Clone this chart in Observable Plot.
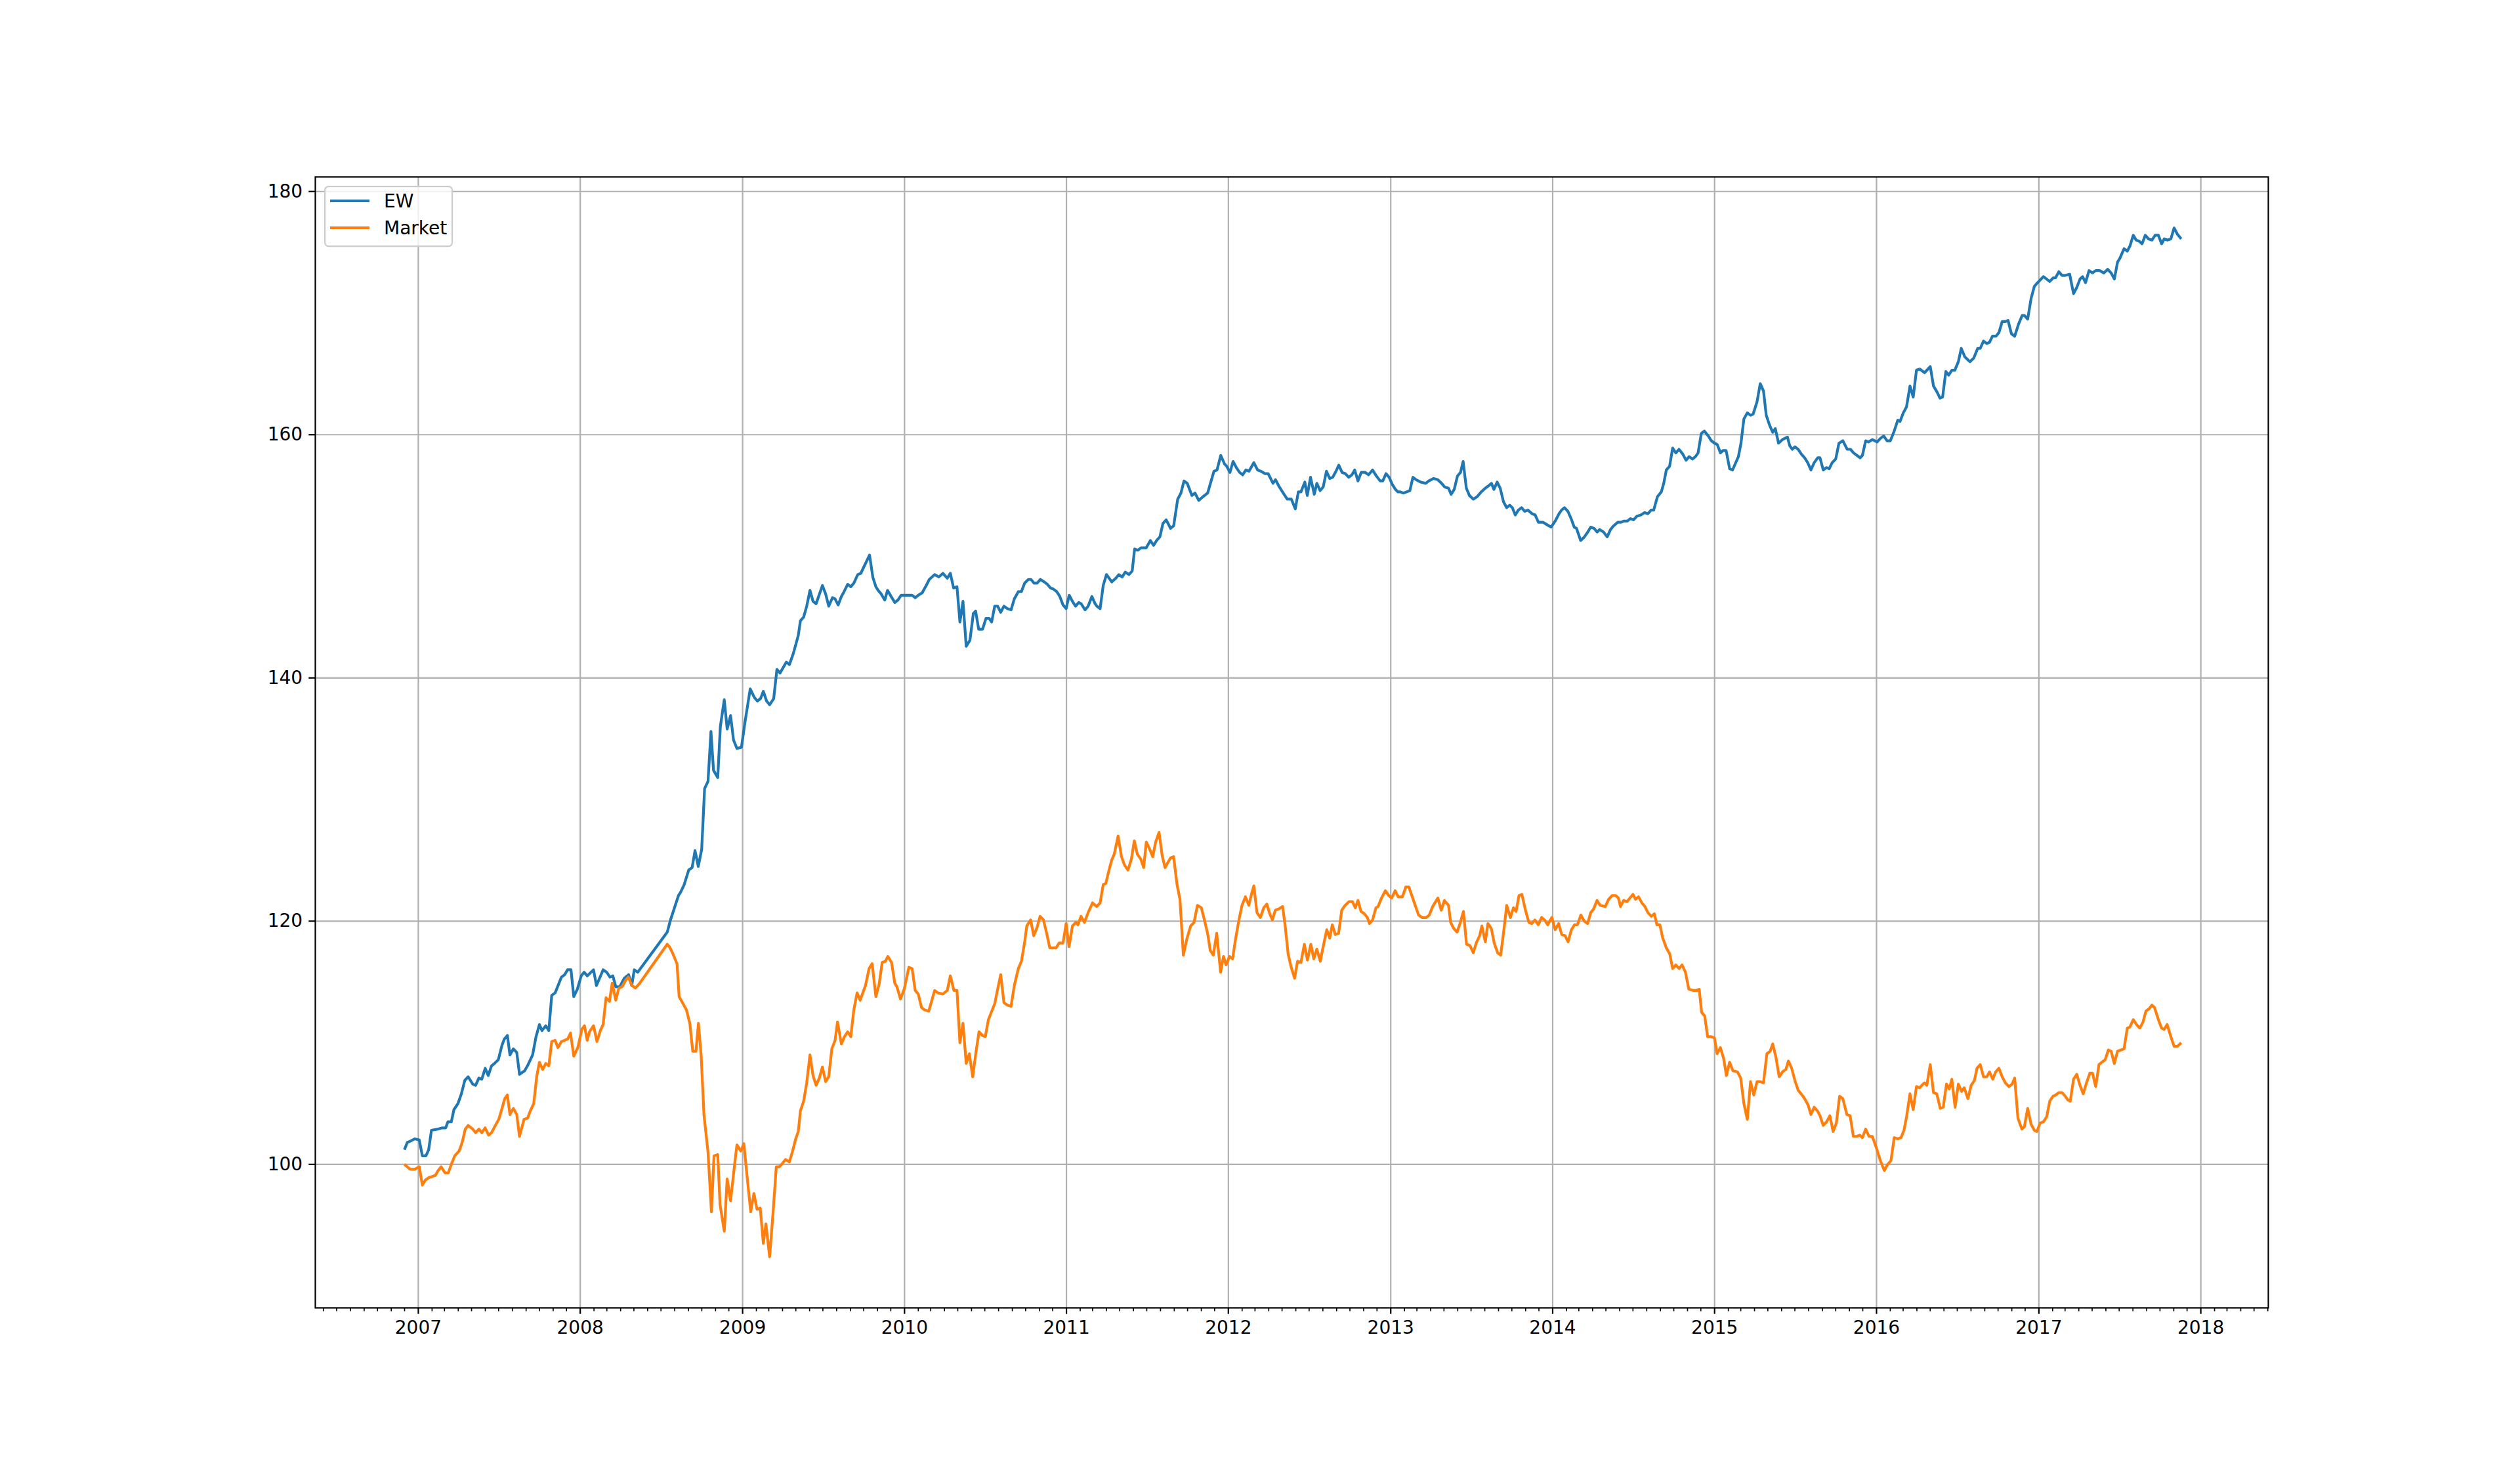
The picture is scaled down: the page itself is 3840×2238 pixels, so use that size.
<!DOCTYPE html>
<html>
<head>
<meta charset="utf-8">
<script src="https://cdn.jsdelivr.net/npm/d3@7"></script>
<script src="https://cdn.jsdelivr.net/npm/@observablehq/plot@0.6"></script>
<style>
html, body { margin: 0; padding: 0; background: #ffffff; }
#wrap { position: relative; width: 3840px; height: 2238px; }
#legend { position: absolute; left: 494px; top: 283px; }
</style>
</head>
<body>
<div id="wrap"><div id="legend"></div></div>
<script>
// ---- data (decimal year, index value) ----
const seriesNames = ["EW", "Market"];
const seriesColors = ["#1f77b4", "#ff7f0e"];
const yearTickLabels = [2007, 2008, 2009, 2010, 2011, 2012, 2013, 2014, 2015, 2016, 2017, 2018];
const yTickValues = [100, 120, 140, 160, 180];

const ewPoints = [
[2006.914,101.2],[2006.932,101.8],[2006.950,101.9],[2006.978,102.1],[2007.006,102.0],[2007.025,100.7],[2007.047,100.7],[2007.064,101.2],[2007.081,102.8],[2007.120,102.9],[2007.148,103.0],[2007.169,103.0],[2007.183,103.5],[2007.204,103.5],[2007.220,104.5],[2007.245,105.0],[2007.266,105.8],[2007.287,106.9],[2007.308,107.2],[2007.336,106.6],[2007.354,106.5],[2007.374,107.1],[2007.392,107.0],[2007.413,107.9],[2007.432,107.3],[2007.452,108.1],[2007.471,108.3],[2007.494,108.6],[2007.517,109.8],[2007.531,110.3],[2007.550,110.6],[2007.566,109.0],[2007.587,109.5],[2007.608,109.2],[2007.625,107.4],[2007.657,107.7],[2007.678,108.2],[2007.706,109.0],[2007.727,110.5],[2007.748,111.5],[2007.764,111.0],[2007.787,111.4],[2007.806,111.0],[2007.824,113.9],[2007.845,114.1],[2007.884,115.4],[2007.904,115.6],[2007.922,116.0],[2007.943,116.0],[2007.960,113.8],[2007.982,114.4],[2008.006,115.5],[2008.024,115.8],[2008.043,115.5],[2008.082,116.0],[2008.100,114.7],[2008.141,116.0],[2008.163,115.8],[2008.183,115.4],[2008.201,115.5],[2008.219,114.6],[2008.243,114.6],[2008.271,115.3],[2008.298,115.6],[2008.317,114.7],[2008.333,116.0],[2008.354,115.8],[2008.536,119.1],[2008.556,120.1],[2008.605,122.1],[2008.619,122.4],[2008.640,123.0],[2008.668,124.2],[2008.689,124.4],[2008.707,125.8],[2008.727,124.5],[2008.748,125.9],[2008.766,130.9],[2008.787,131.5],[2008.805,135.6],[2008.821,132.4],[2008.847,131.8],[2008.863,136.0],[2008.887,138.2],[2008.905,135.8],[2008.926,136.9],[2008.944,134.9],[2008.965,134.2],[2008.993,134.3],
[2009.014,136.3],[2009.047,139.1],[2009.072,138.4],[2009.091,138.1],[2009.111,138.3],[2009.128,138.9],[2009.148,138.1],[2009.167,137.8],[2009.192,138.3],[2009.212,140.7],[2009.231,140.4],[2009.270,141.3],[2009.289,141.1],[2009.313,142.0],[2009.344,143.5],[2009.357,144.7],[2009.377,145.0],[2009.396,145.9],[2009.416,147.2],[2009.435,146.3],[2009.454,146.1],[2009.493,147.6],[2009.513,146.9],[2009.532,145.9],[2009.555,146.6],[2009.571,146.5],[2009.590,146.0],[2009.610,146.7],[2009.623,147.0],[2009.649,147.7],[2009.668,147.5],[2009.687,147.8],[2009.711,148.5],[2009.730,148.6],[2009.755,149.3],[2009.784,150.1],[2009.804,148.3],[2009.823,147.5],[2009.837,147.2],[2009.856,146.9],[2009.878,146.4],[2009.895,147.2],[2009.917,146.7],[2009.940,146.2],[2009.959,146.4],[2009.979,146.8],[2010.047,146.8],[2010.066,146.6],[2010.085,146.8],[2010.109,147.0],[2010.134,147.6],[2010.153,148.1],[2010.186,148.5],[2010.212,148.3],[2010.237,148.6],[2010.264,148.2],[2010.283,148.6],[2010.303,147.4],[2010.324,147.5],[2010.342,144.6],[2010.361,146.3],[2010.381,142.6],[2010.404,143.1],[2010.425,145.3],[2010.439,145.5],[2010.458,144.0],[2010.482,144.0],[2010.503,144.9],[2010.522,144.9],[2010.538,144.6],[2010.557,145.9],[2010.575,145.9],[2010.594,145.4],[2010.614,145.9],[2010.635,145.7],[2010.658,145.6],[2010.678,146.5],[2010.703,147.1],[2010.722,147.1],[2010.742,147.8],[2010.765,148.1],[2010.781,148.1],[2010.800,147.8],[2010.819,147.8],[2010.839,148.1],[2010.862,147.9],[2010.882,147.7],[2010.901,147.4],[2010.920,147.3],[2010.940,147.1],[2010.959,146.7],[2010.979,146.0],[2010.998,145.7],
[2011.017,146.8],[2011.037,146.3],[2011.056,145.9],[2011.076,146.2],[2011.091,146.1],[2011.115,145.6],[2011.134,145.9],[2011.157,146.7],[2011.177,146.1],[2011.188,145.9],[2011.208,145.7],[2011.227,147.6],[2011.247,148.5],[2011.280,147.9],[2011.305,148.2],[2011.324,148.5],[2011.344,148.3],[2011.363,148.7],[2011.386,148.5],[2011.406,148.8],[2011.421,150.6],[2011.441,150.5],[2011.460,150.7],[2011.493,150.7],[2011.518,151.3],[2011.538,150.9],[2011.557,151.3],[2011.577,151.6],[2011.596,152.7],[2011.616,153.0],[2011.643,152.3],[2011.662,152.5],[2011.687,154.7],[2011.707,155.2],[2011.726,156.2],[2011.746,156.0],[2011.775,155.0],[2011.794,155.2],[2011.817,154.6],[2011.843,154.9],[2011.872,155.2],[2011.911,157.0],[2011.930,157.1],[2011.953,158.3],[2011.976,157.6],[2011.990,157.4],
[2012.010,156.9],[2012.029,157.8],[2012.049,157.3],[2012.069,156.9],[2012.088,156.7],[2012.108,157.1],[2012.127,157.0],[2012.157,157.7],[2012.180,157.1],[2012.200,157.0],[2012.225,156.8],[2012.245,156.8],[2012.275,156.0],[2012.290,156.3],[2012.314,155.7],[2012.343,155.1],[2012.363,154.7],[2012.388,154.7],[2012.412,153.9],[2012.431,155.3],[2012.447,155.3],[2012.471,156.1],[2012.486,155.0],[2012.506,156.5],[2012.529,155.1],[2012.545,156.0],[2012.565,155.4],[2012.584,155.7],[2012.604,157.0],[2012.624,156.4],[2012.643,156.5],[2012.663,157.0],[2012.680,157.5],[2012.700,156.9],[2012.720,156.8],[2012.741,156.5],[2012.761,156.7],[2012.778,157.1],[2012.798,156.2],[2012.818,156.9],[2012.843,156.9],[2012.863,156.7],[2012.888,157.1],[2012.912,156.6],[2012.935,156.2],[2012.951,156.2],[2012.971,156.8],[2012.990,156.5],
[2013.010,155.9],[2013.029,155.5],[2013.045,155.3],[2013.059,155.3],[2013.078,155.2],[2013.098,155.3],[2013.118,155.4],[2013.137,156.5],[2013.157,156.3],[2013.186,156.1],[2013.216,156.0],[2013.235,156.2],[2013.265,156.4],[2013.290,156.3],[2013.314,156.0],[2013.333,155.7],[2013.357,155.6],[2013.373,155.1],[2013.392,155.5],[2013.412,156.6],[2013.431,156.9],[2013.447,157.8],[2013.467,155.6],[2013.486,155.0],[2013.510,154.7],[2013.533,154.9],[2013.559,155.3],[2013.584,155.6],[2013.604,155.8],[2013.622,156.0],[2013.637,155.5],[2013.657,156.1],[2013.676,155.6],[2013.696,154.5],[2013.716,154.0],[2013.735,154.2],[2013.751,154.0],[2013.769,153.4],[2013.788,153.8],[2013.808,154.0],[2013.827,153.7],[2013.847,153.8],[2013.873,153.5],[2013.892,153.4],[2013.912,152.8],[2013.941,152.8],[2013.965,152.6],[2013.990,152.4],
[2014.016,152.9],[2014.039,153.5],[2014.055,153.8],[2014.073,154.0],[2014.094,153.7],[2014.114,153.1],[2014.133,152.4],[2014.147,152.3],[2014.173,151.3],[2014.196,151.6],[2014.212,151.9],[2014.235,152.4],[2014.255,152.3],[2014.275,152.0],[2014.290,152.2],[2014.314,152.0],[2014.337,151.6],[2014.357,152.2],[2014.376,152.5],[2014.402,152.8],[2014.422,152.8],[2014.441,152.9],[2014.461,152.9],[2014.480,153.1],[2014.500,153.0],[2014.520,153.3],[2014.545,153.4],[2014.569,153.6],[2014.588,153.5],[2014.608,153.8],[2014.624,153.8],[2014.647,154.9],[2014.671,155.3],[2014.686,156.0],[2014.702,157.1],[2014.722,157.4],[2014.741,158.9],[2014.761,158.5],[2014.780,158.8],[2014.804,158.4],[2014.824,157.9],[2014.843,158.2],[2014.863,158.0],[2014.882,158.2],[2014.898,158.5],[2014.918,160.1],[2014.937,160.3],[2014.961,159.9],[2014.980,159.5],
[2015.000,159.3],[2015.016,159.2],[2015.036,158.5],[2015.052,158.7],[2015.071,158.7],[2015.093,157.2],[2015.111,157.1],[2015.147,158.2],[2015.163,159.3],[2015.181,161.3],[2015.202,161.8],[2015.222,161.6],[2015.238,161.7],[2015.262,162.7],[2015.282,164.2],[2015.302,163.6],[2015.319,161.6],[2015.339,160.8],[2015.359,160.2],[2015.375,160.5],[2015.395,159.3],[2015.419,159.6],[2015.450,159.8],[2015.464,159.1],[2015.480,158.8],[2015.496,159.0],[2015.516,158.8],[2015.536,158.4],[2015.556,158.1],[2015.575,157.7],[2015.595,157.1],[2015.615,157.7],[2015.637,158.1],[2015.651,158.1],[2015.671,157.1],[2015.692,157.3],[2015.708,157.2],[2015.726,157.7],[2015.748,158.0],[2015.768,159.3],[2015.792,159.5],[2015.819,158.8],[2015.839,158.8],[2015.859,158.5],[2015.879,158.3],[2015.899,158.1],[2015.913,158.3],[2015.933,159.5],[2015.950,159.4],[2015.974,159.6],
[2016.004,159.4],[2016.024,159.7],[2016.044,159.9],[2016.065,159.5],[2016.085,159.5],[2016.109,160.3],[2016.131,161.2],[2016.145,161.1],[2016.165,161.8],[2016.185,162.3],[2016.206,164.0],[2016.226,163.1],[2016.246,165.3],[2016.266,165.4],[2016.296,165.1],[2016.331,165.6],[2016.351,164.0],[2016.373,163.5],[2016.391,163.0],[2016.407,163.1],[2016.427,165.2],[2016.444,164.9],[2016.464,165.3],[2016.482,165.3],[2016.504,166.0],[2016.522,167.1],[2016.544,166.4],[2016.575,166.0],[2016.599,166.3],[2016.623,167.1],[2016.639,167.1],[2016.659,167.7],[2016.679,167.5],[2016.696,167.6],[2016.714,168.1],[2016.736,168.1],[2016.754,168.4],[2016.774,169.3],[2016.794,169.3],[2016.810,169.4],[2016.831,168.3],[2016.851,168.1],[2016.875,169.1],[2016.897,169.8],[2016.911,169.8],[2016.931,169.5],[2016.952,171.2],[2016.972,172.2],[2016.992,172.5],
[2017.028,173.0],[2017.067,172.6],[2017.089,172.9],[2017.103,172.9],[2017.123,173.4],[2017.143,173.1],[2017.163,173.1],[2017.190,173.2],[2017.214,171.6],[2017.234,172.1],[2017.254,172.8],[2017.270,173.0],[2017.288,172.5],[2017.310,173.5],[2017.331,173.3],[2017.351,173.5],[2017.375,173.5],[2017.401,173.3],[2017.425,173.6],[2017.446,173.3],[2017.466,172.8],[2017.486,174.2],[2017.500,174.5],[2017.526,175.3],[2017.546,175.1],[2017.562,175.5],[2017.583,176.4],[2017.601,176.0],[2017.621,175.9],[2017.637,175.7],[2017.657,176.4],[2017.677,176.1],[2017.698,176.0],[2017.718,176.4],[2017.738,176.4],[2017.758,175.7],[2017.774,176.1],[2017.794,176.0],[2017.815,176.1],[2017.835,177.0],[2017.855,176.5],[2017.879,176.1]
];

const marketPoints = [
[2006.914,100.0],[2006.950,99.6],[2006.978,99.6],[2007.006,99.8],[2007.025,98.3],[2007.043,98.7],[2007.064,98.9],[2007.085,99.0],[2007.106,99.1],[2007.123,99.5],[2007.141,99.8],[2007.165,99.3],[2007.185,99.3],[2007.204,100.0],[2007.225,100.7],[2007.252,101.1],[2007.271,101.8],[2007.290,102.9],[2007.308,103.2],[2007.336,102.9],[2007.354,102.6],[2007.374,102.9],[2007.392,102.6],[2007.413,103.0],[2007.434,102.4],[2007.452,102.6],[2007.476,103.2],[2007.497,103.7],[2007.517,104.6],[2007.534,105.4],[2007.550,105.7],[2007.566,104.1],[2007.587,104.6],[2007.608,104.1],[2007.625,102.3],[2007.653,103.7],[2007.675,103.8],[2007.692,104.4],[2007.713,105.0],[2007.731,107.2],[2007.748,108.4],[2007.768,107.8],[2007.787,108.3],[2007.806,108.1],[2007.824,110.1],[2007.845,110.2],[2007.862,109.6],[2007.884,110.1],[2007.904,110.2],[2007.922,110.3],[2007.940,110.8],[2007.960,108.9],[2007.985,109.6],
[2008.010,111.1],[2008.026,111.4],[2008.043,110.2],[2008.057,110.9],[2008.082,111.4],[2008.103,110.1],[2008.124,111.0],[2008.141,111.5],[2008.159,113.7],[2008.180,113.4],[2008.197,114.9],[2008.219,113.5],[2008.238,114.5],[2008.257,114.6],[2008.278,115.1],[2008.296,115.4],[2008.319,114.7],[2008.340,114.5],[2008.361,114.8],[2008.536,118.1],[2008.549,117.9],[2008.568,117.4],[2008.596,116.5],[2008.609,113.8],[2008.654,112.7],[2008.675,111.6],[2008.693,109.3],[2008.713,109.3],[2008.728,111.6],[2008.745,108.9],[2008.762,104.1],[2008.787,101.0],[2008.808,96.1],[2008.824,100.7],[2008.847,100.8],[2008.861,96.7],[2008.887,94.5],[2008.905,98.8],[2008.926,97.0],[2008.944,99.2],[2008.965,101.6],[2008.989,101.1],
[2009.008,101.7],[2009.027,99.1],[2009.050,96.1],[2009.070,97.6],[2009.089,96.3],[2009.109,96.4],[2009.128,93.5],[2009.144,95.1],[2009.167,92.4],[2009.188,96.0],[2009.208,99.8],[2009.227,99.8],[2009.247,100.1],[2009.266,100.4],[2009.289,100.2],[2009.309,101.1],[2009.328,102.1],[2009.344,102.7],[2009.357,104.4],[2009.377,105.2],[2009.396,106.7],[2009.416,109.0],[2009.435,107.3],[2009.454,106.5],[2009.474,107.1],[2009.493,108.0],[2009.513,106.8],[2009.532,107.2],[2009.551,109.5],[2009.571,110.2],[2009.586,111.7],[2009.610,109.9],[2009.629,110.5],[2009.649,110.9],[2009.668,110.5],[2009.687,112.7],[2009.707,114.1],[2009.726,113.5],[2009.759,114.7],[2009.781,116.1],[2009.800,116.5],[2009.823,113.8],[2009.843,114.8],[2009.862,116.6],[2009.882,116.7],[2009.897,117.1],[2009.920,116.6],[2009.940,114.9],[2009.953,114.6],[2009.975,113.6],[2009.998,114.4],
[2010.027,116.2],[2010.047,116.1],[2010.066,114.3],[2010.085,114.0],[2010.105,112.9],[2010.124,112.7],[2010.150,112.6],[2010.186,114.3],[2010.206,114.1],[2010.237,114.0],[2010.264,114.3],[2010.283,115.5],[2010.305,114.3],[2010.324,114.3],[2010.342,110.0],[2010.361,111.6],[2010.381,108.3],[2010.400,109.1],[2010.421,107.2],[2010.441,109.2],[2010.460,110.9],[2010.480,110.6],[2010.499,110.5],[2010.518,111.9],[2010.542,112.7],[2010.557,113.2],[2010.575,114.4],[2010.594,115.6],[2010.614,113.3],[2010.635,113.1],[2010.658,113.0],[2010.678,114.7],[2010.703,116.1],[2010.722,116.7],[2010.742,118.3],[2010.755,119.6],[2010.779,120.1],[2010.798,118.8],[2010.819,119.5],[2010.837,120.4],[2010.858,120.1],[2010.878,119.0],[2010.897,117.8],[2010.920,117.8],[2010.936,117.8],[2010.955,118.2],[2010.979,118.2],[2010.998,119.8],
[2011.016,117.9],[2011.037,119.6],[2011.058,119.9],[2011.071,119.7],[2011.090,120.4],[2011.111,119.9],[2011.137,120.8],[2011.161,121.5],[2011.187,121.2],[2011.208,121.5],[2011.227,123.0],[2011.243,123.1],[2011.261,124.1],[2011.279,125.0],[2011.295,125.5],[2011.319,127.0],[2011.340,125.3],[2011.359,124.6],[2011.380,124.2],[2011.401,125.1],[2011.419,126.6],[2011.438,125.5],[2011.459,125.1],[2011.477,124.4],[2011.493,126.5],[2011.511,126.0],[2011.533,125.3],[2011.551,126.5],[2011.572,127.3],[2011.591,125.4],[2011.609,124.4],[2011.630,124.9],[2011.643,125.2],[2011.662,125.3],[2011.683,123.0],[2011.701,121.8],[2011.722,117.2],[2011.743,118.5],[2011.767,119.6],[2011.788,119.9],[2011.809,121.3],[2011.833,121.1],[2011.854,120.0],[2011.873,118.9],[2011.888,117.6],[2011.907,117.2],[2011.928,119.0],[2011.952,115.8],[2011.970,117.1],[2011.986,116.4],
[2012.007,117.1],[2012.026,116.9],[2012.044,118.5],[2012.065,120.1],[2012.084,121.3],[2012.105,122.0],[2012.126,121.3],[2012.144,122.3],[2012.157,122.9],[2012.176,120.7],[2012.197,120.3],[2012.218,121.1],[2012.237,121.4],[2012.255,120.6],[2012.271,120.1],[2012.289,120.9],[2012.310,121.0],[2012.334,121.2],[2012.350,119.6],[2012.368,117.3],[2012.387,116.2],[2012.408,115.3],[2012.426,116.7],[2012.447,116.6],[2012.468,118.1],[2012.487,116.8],[2012.508,118.1],[2012.526,116.9],[2012.545,117.7],[2012.566,116.7],[2012.584,117.9],[2012.606,119.3],[2012.624,118.6],[2012.640,119.7],[2012.658,118.9],[2012.679,119.0],[2012.698,120.9],[2012.719,121.3],[2012.743,121.6],[2012.764,121.6],[2012.782,121.1],[2012.798,121.7],[2012.817,120.8],[2012.838,120.6],[2012.856,120.3],[2012.869,119.8],[2012.888,120.1],[2012.909,121.1],[2012.922,121.2],[2012.943,121.9],[2012.967,122.5],[2012.988,122.1],
[2013.006,121.9],[2013.027,122.5],[2013.046,122.0],[2013.072,122.0],[2013.093,122.8],[2013.112,122.8],[2013.133,122.0],[2013.151,121.3],[2013.172,120.5],[2013.193,120.3],[2013.220,120.3],[2013.238,120.5],[2013.259,121.2],[2013.291,121.9],[2013.312,120.9],[2013.331,121.7],[2013.357,121.3],[2013.370,119.9],[2013.389,119.4],[2013.410,119.1],[2013.428,119.8],[2013.449,120.8],[2013.468,118.1],[2013.489,118.0],[2013.510,117.4],[2013.528,118.2],[2013.549,118.8],[2013.563,119.6],[2013.584,118.3],[2013.600,119.8],[2013.621,119.4],[2013.639,118.2],[2013.660,117.4],[2013.679,117.2],[2013.700,119.4],[2013.716,121.3],[2013.739,120.3],[2013.758,121.1],[2013.774,120.8],[2013.792,122.1],[2013.810,122.2],[2013.832,120.9],[2013.853,119.9],[2013.871,119.8],[2013.890,120.1],[2013.911,119.7],[2013.932,120.3],[2013.950,120.1],[2013.969,119.7],[2013.995,120.3],
[2014.016,119.3],[2014.037,119.8],[2014.056,118.9],[2014.077,118.8],[2014.095,118.3],[2014.116,119.3],[2014.135,119.7],[2014.153,119.7],[2014.174,120.5],[2014.195,120.0],[2014.216,119.8],[2014.235,120.7],[2014.253,121.0],[2014.274,121.7],[2014.293,121.3],[2014.325,121.2],[2014.346,121.8],[2014.367,122.1],[2014.390,122.1],[2014.406,121.9],[2014.419,121.2],[2014.438,121.7],[2014.459,121.6],[2014.477,121.9],[2014.496,122.2],[2014.512,121.8],[2014.530,122.0],[2014.551,121.5],[2014.570,121.2],[2014.588,120.7],[2014.609,120.4],[2014.628,120.6],[2014.644,119.7],[2014.662,119.7],[2014.680,118.6],[2014.702,117.8],[2014.723,117.3],[2014.741,116.1],[2014.760,116.4],[2014.781,116.1],[2014.799,116.4],[2014.820,115.8],[2014.841,114.4],[2014.868,114.3],[2014.886,114.3],[2014.905,114.4],[2014.920,112.5],[2014.939,112.2],[2014.957,110.5],[2014.978,110.5],[2014.999,110.4],
[2015.016,109.1],[2015.036,109.6],[2015.056,108.7],[2015.073,107.3],[2015.093,108.4],[2015.113,107.7],[2015.141,107.6],[2015.161,107.1],[2015.181,105.0],[2015.202,103.7],[2015.222,106.8],[2015.242,105.7],[2015.262,106.8],[2015.282,106.8],[2015.302,106.7],[2015.323,109.1],[2015.343,109.3],[2015.359,109.9],[2015.379,108.8],[2015.399,107.2],[2015.419,107.6],[2015.440,107.8],[2015.456,108.5],[2015.476,107.9],[2015.496,106.9],[2015.516,106.1],[2015.540,105.7],[2015.556,105.4],[2015.577,104.9],[2015.595,104.1],[2015.615,104.7],[2015.635,104.4],[2015.651,104.0],[2015.671,103.2],[2015.692,103.5],[2015.712,104.0],[2015.732,102.7],[2015.752,103.4],[2015.772,105.6],[2015.792,105.4],[2015.817,104.1],[2015.837,104.0],[2015.857,102.3],[2015.877,102.3],[2015.897,102.4],[2015.913,102.2],[2015.933,102.9],[2015.954,102.3],[2015.974,102.3],[2015.998,101.4],
[2016.024,100.3],[2016.048,99.5],[2016.069,100.0],[2016.089,100.3],[2016.109,102.2],[2016.131,102.1],[2016.151,102.2],[2016.169,102.8],[2016.185,103.9],[2016.206,105.8],[2016.226,104.5],[2016.246,106.4],[2016.266,106.3],[2016.286,106.6],[2016.296,106.7],[2016.310,106.5],[2016.331,108.2],[2016.351,105.9],[2016.371,105.8],[2016.393,104.6],[2016.411,104.7],[2016.431,106.6],[2016.448,106.2],[2016.464,107.0],[2016.484,104.7],[2016.504,106.6],[2016.524,106.0],[2016.540,106.3],[2016.563,105.4],[2016.583,106.5],[2016.603,106.9],[2016.619,107.9],[2016.639,108.2],[2016.659,107.2],[2016.679,107.2],[2016.696,107.6],[2016.716,107.0],[2016.734,107.6],[2016.754,107.9],[2016.774,107.2],[2016.794,106.7],[2016.815,106.4],[2016.835,106.6],[2016.851,107.1],[2016.871,103.8],[2016.895,102.9],[2016.911,103.1],[2016.931,104.6],[2016.952,103.3],[2016.972,102.8],[2016.988,102.7],
[2017.008,103.4],[2017.028,103.5],[2017.048,103.9],[2017.067,105.2],[2017.087,105.6],[2017.103,105.7],[2017.123,105.9],[2017.143,105.9],[2017.163,105.6],[2017.179,105.3],[2017.194,105.2],[2017.214,107.0],[2017.234,107.4],[2017.254,106.5],[2017.274,105.8],[2017.294,106.7],[2017.315,107.5],[2017.331,107.5],[2017.351,106.4],[2017.371,108.2],[2017.389,108.4],[2017.409,108.6],[2017.429,109.4],[2017.446,109.3],[2017.466,108.3],[2017.486,109.3],[2017.506,109.4],[2017.526,109.5],[2017.546,111.2],[2017.562,111.3],[2017.583,111.9],[2017.603,111.5],[2017.623,111.2],[2017.643,111.7],[2017.661,112.6],[2017.681,112.8],[2017.698,113.1],[2017.714,112.9],[2017.738,111.9],[2017.758,111.2],[2017.774,111.1],[2017.792,111.5],[2017.815,110.5],[2017.835,109.7],[2017.855,109.7],[2017.879,110.0]
];

const xDomainYears = [2006.364, 2018.417];
const yDomain = [88.2, 181.2];

// ---- helpers ----
function toDate(y) {
  const yr = Math.floor(y);
  const s = Date.UTC(yr, 0, 1), e = Date.UTC(yr + 1, 0, 1);
  return new Date(s + (y - yr) * (e - s));
}
const seriesPoints = [ewPoints, marketPoints];
const seriesRows = seriesPoints.map(pts => pts.map(([t, v]) => ({date: toDate(t), value: v})));
const xDomain = xDomainYears.map(toDate);
const yearTicks = yearTickLabels.map(y => new Date(Date.UTC(y, 0, 1)));
const monthTicks = d3.utcMonth.range(xDomain[0], xDomain[1]).filter(d => d.getUTCMonth() !== 0);

const chart = Plot.plot({
  width: 3840,
  height: 2238,
  marginLeft: 480,
  marginRight: 384,
  marginTop: 269,
  marginBottom: 246,
  style: {fontFamily: "DejaVu Sans", fontSize: "28px", background: "#ffffff", color: "#000000", overflow: "visible"},
  x: {type: "utc", domain: xDomain},
  y: {domain: yDomain},
  marks: [
    Plot.gridX(yearTicks, {stroke: "#b0b0b0", strokeOpacity: 1, strokeWidth: 2.2}),
    Plot.gridY(yTickValues, {stroke: "#b0b0b0", strokeOpacity: 1, strokeWidth: 2.2}),
    ...seriesRows.map((rows, i) => Plot.line(rows, {x: "date", y: "value", stroke: seriesColors[i], strokeWidth: 4.2, strokeLinejoin: "round", strokeLinecap: "butt"})),
    Plot.frame({stroke: "#000000", strokeWidth: 2.2}),
    Plot.axisX(monthTicks, {anchor: "bottom", tickSize: 5.6, strokeWidth: 1.7, fill: "none", label: null}),
    Plot.axisX(yearTicks, {anchor: "bottom", tickSize: 9.7, tickPadding: 9.7, strokeWidth: 2.2, tickFormat: d3.utcFormat("%Y"), label: null, fontSize: 28}),
    Plot.axisY(yTickValues, {anchor: "left", tickSize: 9.7, tickPadding: 9.7, strokeWidth: 2.2, label: null, fontSize: 28})
  ]
});
document.getElementById("wrap").insertBefore(chart, document.getElementById("legend"));

// ---- legend (upper left, matplotlib style) ----
const lg = d3.select("#legend").append("svg").attr("width", 198).attr("height", 95);
lg.append("rect").attr("x", 1.1).attr("y", 1.1).attr("width", 194).attr("height", 91)
  .attr("rx", 5.5).attr("fill", "#ffffff").attr("fill-opacity", 0.8)
  .attr("stroke", "#cccccc").attr("stroke-width", 2.2);
seriesNames.forEach((name, i) => {
  const cy = 23 + i * 41;
  lg.append("line").attr("x1", 9).attr("x2", 69).attr("y1", cy).attr("y2", cy)
    .attr("stroke", seriesColors[i]).attr("stroke-width", 4.2);
  lg.append("text").attr("x", 91).attr("y", cy).attr("dy", "0.35em")
    .attr("font-family", "DejaVu Sans").attr("font-size", 28).attr("fill", "#000000").text(name);
});
</script>
</body>
</html>
